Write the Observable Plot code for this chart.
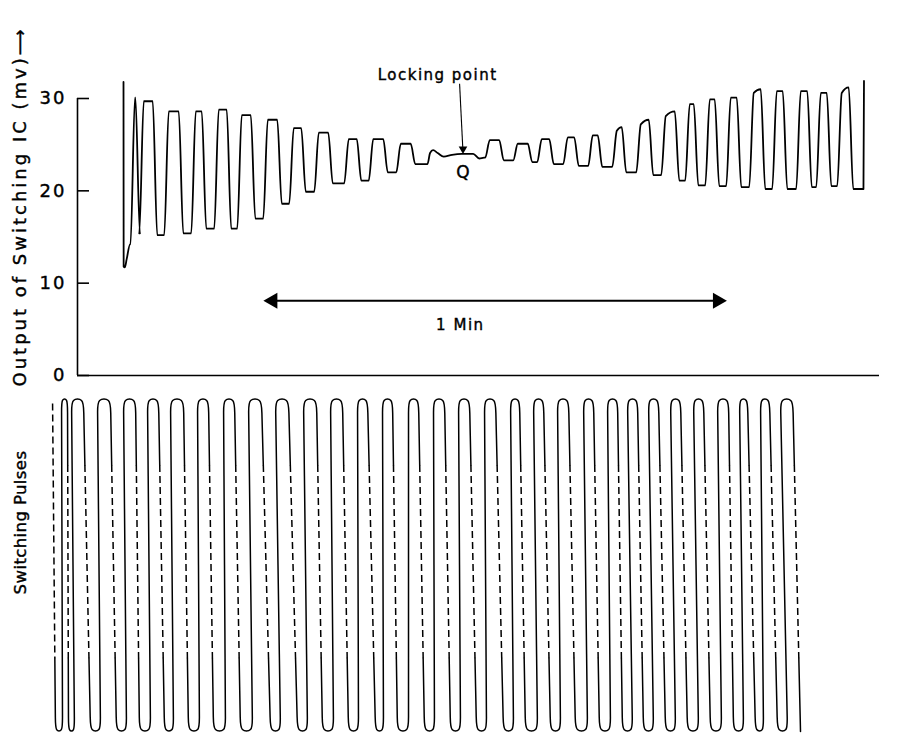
<!DOCTYPE html>
<html><head><meta charset="utf-8">
<script src="https://cdn.jsdelivr.net/npm/d3@7"></script>
<script src="https://cdn.jsdelivr.net/npm/@observablehq/plot@0.6"></script>
<style>
body{margin:0;background:#fff;}
#chart{position:relative;width:898px;height:734px;overflow:hidden;background:#fff;}
#chart svg{display:block;}
#chart svg text{stroke:#000;stroke-width:0.4px;}
.lbl text{letter-spacing:3px;}
.lbl2 text{letter-spacing:0.4px;}
.ann text{letter-spacing:1.5px;}
g[aria-label="y-axis tick label"] text{letter-spacing:2px;stroke-width:0.6px;}
</style></head><body><div id="chart"></div>
<script>
// ---------- Top panel: output of switching IC (mv) vs time (s) ----------
const yTicks = [0, 10, 20, 30];
// initial transient
const startT  = [6.08, 6.10, 6.25, 6.5, 6.95];
const startMv = [31.8, 11.8, 11.7, 12.6, 14.2];
// each oscillation cycle: rising edge, falling edge, top level (open/close), trough level
const riseT = [7.30, 8.46, 11.76, 15.33, 18.37, 21.41, 24.85, 28.28, 31.59, 35.55, 38.79, 42.43,
               54.19, 57.89, 61.06, 64.50, 67.80, 70.98, 74.15, 77.45, 80.62, 83.27, 86.04, 89.08, 92.12, 95.29, 97.94, 100.71];
const fallT = [7.95, 10.24, 13.68, 16.72, 20.02, 23.20, 26.70, 29.87, 33.44, 37.21, 40.71, 44.34,
               56.04, 59.81, 62.65, 65.95, 69.06, 72.23, 75.80, 79.24, 81.75, 84.52, 87.43, 90.60, 93.51, 96.75, 99.33, 102.23];
const peakOpen  = [30.1, 29.7, 28.6, 28.6, 28.8, 28.2, 27.7, 26.8, 26.3, 25.6, 25.6, 25.1,
                   25.5, 25.1, 25.6, 25.8, 26.0, 26.5, 27.2, 28.1, 29.4, 29.9, 30.1, 30.6, 30.8, 30.8, 30.6, 30.6];
const peakClose = [30.1, 29.7, 28.6, 28.6, 28.8, 28.2, 27.7, 26.8, 26.3, 25.6, 25.6, 25.1,
                   25.5, 25.1, 25.6, 25.8, 26.0, 26.9, 27.7, 28.6, 29.4, 29.9, 30.1, 31.0, 30.8, 30.8, 30.6, 31.2];
const troughMv  = [15.4, 15.2, 15.4, 15.9, 15.9, 17.0, 18.6, 19.9, 20.8, 21.1, 22.0, 22.9,
                   23.3, 23.1, 22.9, 22.7, 22.6, 22.0, 21.7, 21.1, 20.6, 20.5, 20.4, 20.2, 20.2, 20.4, 20.5, 20.2];
// around the locking point
const lockT  = [46.26, 46.6, 47.0, 47.6, 48.4, 49.5, 50.8, 52.3, 53.1, 53.75];
const lockMv = [22.9, 24.1, 24.4, 24.1, 23.7, 23.9, 24.0, 24.0, 23.5, 23.6];
// final edge
const endT  = [103.88, 103.95];
const endMv = [20.2, 31.9];
// annotations
const oneMin = {t1: 25.2, t2: 85.2, mv: 8.1, label: "1 Min", labelT: 50.6, labelMv: 5.4};
const lockPoint = {t: 50.95, mv: 24.2, label: "Q", labelMv: 22.0, text: "Locking point", textT: 47.6, textMv: 32.5, arrowT: 50.5, arrowMv: 31.6};

// ---------- Bottom panel: switching pulses ----------
const capL = [-2.11, -0.79, 2.64, 6.08, 9.25, 12.29, 15.86, 19.30, 22.60, 26.17, 29.87, 33.44, 37.01, 40.31, 43.75, 47.05,
              50.36, 53.79, 57.23, 60.27, 63.44, 66.88, 70.05, 72.69, 75.47, 78.38, 81.42, 84.59, 87.50, 90.27, 92.91];
const capR = [-1.32, 0.79, 4.36, 7.67, 10.71, 14.01, 17.31, 20.75, 24.32, 27.89, 31.59, 35.02, 38.33, 41.63, 45.07, 48.51,
              51.81, 55.25, 58.42, 61.59, 64.90, 68.20, 71.37, 74.01, 76.79, 79.70, 82.74, 86.04, 88.55, 91.46, 94.54];
const cupL = [-2.91, -1.19, 1.72, 5.15, 8.19, 11.50, 14.67, 17.98, 21.54, 25.51, 29.08, 32.38, 35.82, 39.39, 42.29, 45.86,
              49.30, 52.74, 56.30, 59.21, 62.52, 65.82, 68.99, 72.03, 74.81, 77.72, 80.62, 83.66, 86.71, 89.61, 92.52];
const cupR = [-1.98, -0.40, 3.04, 6.48, 9.65, 12.69, 16.12, 19.56, 23.13, 26.83, 30.40, 33.84, 37.14, 40.44, 43.75, 47.18,
              50.62, 54.06, 57.63, 60.80, 63.84, 67.41, 70.45, 73.35, 76.13, 79.04, 82.08, 85.12, 88.03, 90.67, 93.84];
const pulseStartT = -3.30;
const pulseEndT = 95.56;

// ---------- build tables ----------
const S = 0.6;
const topPts = [];
startT.forEach((t, i) => topPts.push({t, mv: startMv[i]}));
let lockDone = false;
riseT.forEach((r, i) => {
  if (!lockDone && r > lockT[0]) { lockT.forEach((t, j) => topPts.push({t, mv: lockMv[j]})); lockDone = true; }
  const prev = topPts[topPts.length - 1].mv;
  topPts.push({t: r - S / 2, mv: prev});
  topPts.push({t: r + S / 2, mv: peakOpen[i]});
  topPts.push({t: fallT[i] - S / 2, mv: peakClose[i]});
  topPts.push({t: fallT[i] + S / 2, mv: troughMv[i]});
});
endT.forEach((t, i) => topPts.push({t, mv: endMv[i]}));

// bottom trace: down legs (dashed in the middle) and up legs joined by rounded hairpins
const downTop = [pulseStartT, ...capR];
const downBot = [...cupL, pulseEndT];
const dn = (j, y) => downBot[j] + (downTop[j] - downBot[j]) * y;
const up = (k, y) => cupR[k] + (capL[k] - cupR[k]) * y;
const solid = [];
cupL.forEach((l, k) => {
  const pts = [
    [dn(k, 0.22), 0.22], [dn(k, 0.12), 0.12], [dn(k, 0.035), 0.035],
    [l, 0], [cupR[k], 0],
    [up(k, 0.035), 0.035], [up(k, 0.12), 0.12], [up(k, 0.88), 0.88], [up(k, 0.965), 0.965],
    [capL[k], 1], [capR[k], 1],
    [dn(k + 1, 0.965), 0.965], [dn(k + 1, 0.88), 0.88], [dn(k + 1, 0.8), 0.8]
  ];
  pts.forEach(([t, v]) => solid.push({p: k, t, v}));
});
const lastLeg = downTop.length - 1;
[[dn(lastLeg, 0.22), 0.22], [dn(lastLeg, 0.12), 0.12], [pulseEndT, 0]].forEach(([t, v]) => solid.push({p: 99, t, v}));
const dashed = downTop.map((_, j) => {
  const y1 = j === 0 ? 0.985 : 0.8;
  return {t1: dn(j, y1), v1: y1, t2: dn(j, 0.22), v2: 0.22};
});

const font = '"DejaVu Sans", sans-serif';
const W = 898;
const xScale = {domain: [0, 106], axis: null};

const topChart = Plot.plot({
  width: W, height: 390,
  marginLeft: 77, marginRight: 19, marginTop: 98, marginBottom: 15,
  style: {fontFamily: font, fontSize: "17px", color: "#000", background: "#fff"},
  x: xScale,
  y: {domain: [0, 30], axis: null},
  marks: [
    Plot.ruleX([0], {strokeWidth: 1.6}),
    Plot.ruleY([0], {strokeWidth: 1.6}),
    Plot.axisY({ticks: yTicks, tickSize: -12, tickPadding: 23, fontSize: 18, tickFormat: d => String(d), label: null, strokeWidth: 1.6}),
    Plot.line(topPts, {x: "t", y: "mv", curve: "monotone-x", strokeWidth: 1.8, stroke: "#000"}),
    // 1 Min double arrow
    Plot.link([oneMin], {x1: "t1", x2: "t2", y1: "mv", y2: "mv", strokeWidth: 2}),
    Plot.dot([{t: oneMin.t1 + 0.6, mv: oneMin.mv, rot: -90}, {t: oneMin.t2 - 0.6, mv: oneMin.mv, rot: 90}],
      {x: "t", y: "mv", symbol: "triangle", r: 6, rotate: "rot", fill: "#000", stroke: "none"}),
    Plot.text([oneMin], {x: "labelT", y: "labelMv", text: "label", fontSize: 15, className: "ann"}),
    // locking point
    Plot.link([lockPoint], {x1: "arrowT", y1: "arrowMv", x2: "t", y2: "mv", strokeWidth: 1.1}),
    Plot.dot([lockPoint], {x: "t", y: "mv", symbol: "triangle", r: 3.2, rotate: 180, fill: "#000", stroke: "none", dy: -3}),
    Plot.text([lockPoint], {x: "textT", y: "textMv", text: "text", fontSize: 15, className: "ann"}),
    Plot.text([lockPoint], {x: "t", y: "labelMv", text: "label", fontSize: 17}),
    // y label
    Plot.text(["Output of Switching IC (mv)\u27F6"], {frameAnchor: "left", rotate: -90, textAnchor: "start", dx: -57, dy: 149.5, fontSize: 18, className: "lbl"})
  ]
});

const bottomChart = Plot.plot({
  width: W, height: 344,
  marginLeft: 77, marginRight: 19, marginTop: 8, marginBottom: 3,
  style: {fontFamily: font, fontSize: "17px", color: "#000", background: "#fff"},
  x: xScale,
  y: {domain: [0, 1], axis: null},
  marks: [
    Plot.line(solid, {x: "t", y: "v", z: "p", curve: "basis", strokeWidth: 1.5, stroke: "#000"}),
    Plot.link(dashed, {x1: "t1", y1: "v1", x2: "t2", y2: "v2", strokeWidth: 1.5, strokeDasharray: "7,4"}),
    Plot.text(["Switching Pulses"], {frameAnchor: "left", rotate: -90, textAnchor: "middle", dx: -57, dy: -42.5, fontSize: 16.5, className: "lbl2"})
  ]
});

const root = document.getElementById("chart");
root.appendChild(topChart);
root.appendChild(bottomChart);
</script>
</body></html>
